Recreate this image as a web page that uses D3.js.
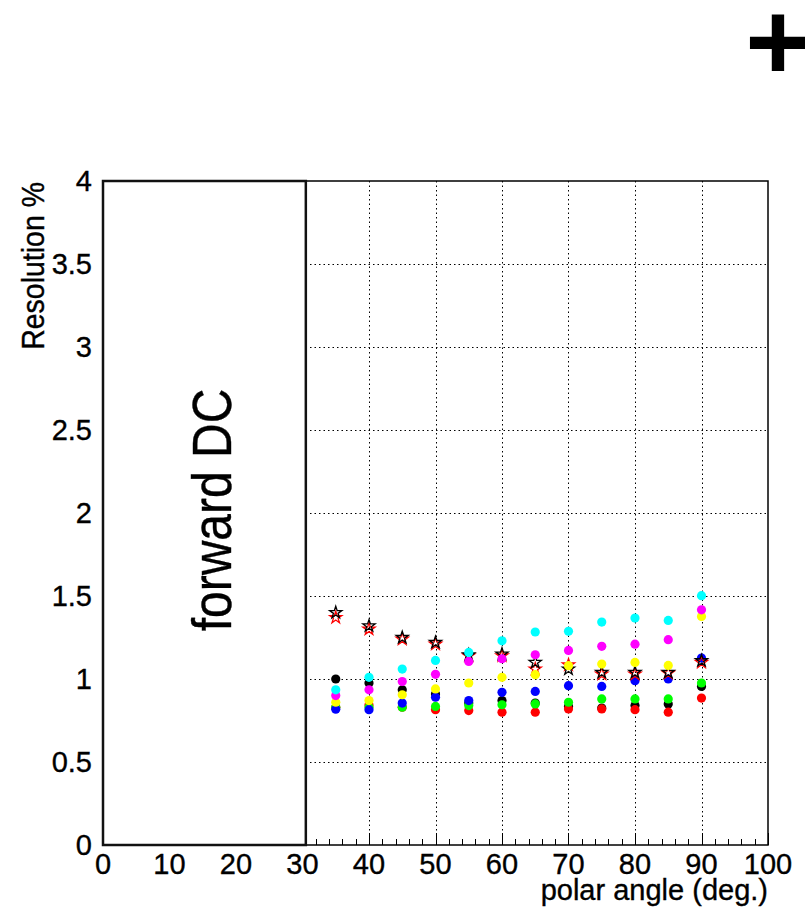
<!DOCTYPE html>
<html>
<head>
<meta charset="utf-8">
<script src="https://cdn.jsdelivr.net/npm/d3@7"></script>
<style>
  html, body { margin: 0; padding: 0; background: #fff; }
  svg { display: block; font-family: "Liberation Sans", Arial, Helvetica, sans-serif; }
  .lbl { fill: #000; stroke: #000; stroke-width: 0.35px; }
</style>
</head>
<body>
<svg id="chart" width="805" height="918"></svg>
<script>
// Polar angles of the measurements (degrees)
const angles = [35, 40, 45, 50, 55, 60, 65, 70, 75, 80, 85, 90];

// Resolution (%) per series
const starBlack = [1.40, 1.32, 1.25, 1.22, 1.145, 1.15, 1.10, 1.06, 1.04, 1.04, 1.04, 1.11];
const starRed   = [1.37, 1.30, 1.24, 1.21, 1.14, 1.14, 1.06, 1.085, 1.03, 1.03, 1.035, 1.10];
const dotBlack   = [1.00, 0.976, 0.935, 0.91, 0.855, 0.87, 0.855, 0.835, 0.825, 0.84, 0.85, 0.955];
const dotRed     = [0.83, 0.843, 0.83, 0.815, 0.81, 0.80, 0.80, 0.82, 0.82, 0.815, 0.80, 0.885];
const dotGreen   = [0.83, 0.83, 0.83, 0.835, 0.84, 0.845, 0.85, 0.86, 0.88, 0.88, 0.88, 0.976];
const dotBlue    = [0.818, 0.815, 0.855, 0.89, 0.87, 0.92, 0.925, 0.96, 0.955, 0.99, 1.00, 1.126];
const dotYellow  = [0.86, 0.87, 0.905, 0.94, 0.976, 1.01, 1.026, 1.08, 1.09, 1.10, 1.082, 1.377];
const dotMagenta = [0.90, 0.935, 0.985, 1.028, 1.106, 1.122, 1.146, 1.172, 1.197, 1.21, 1.237, 1.417];
const dotCyan    = [0.935, 1.01, 1.06, 1.112, 1.16, 1.23, 1.283, 1.287, 1.343, 1.367, 1.353, 1.502];

// Axis ticks and labels
const xTicks = [0, 10, 20, 30, 40, 50, 60, 70, 80, 90, 100];
const yTicks = [0, 0.5, 1, 1.5, 2, 2.5, 3, 3.5, 4];
const yTickLabels = ["0", "0.5", "1", "1.5", "2", "2.5", "3", "3.5", "4"];
const xTitle = "polar angle (deg.)";
const yTitle = "Resolution %";
const boxLabel = "forward DC";
const boxEnd = 30.5;   // extent of the forward-DC region on the angle axis

const svg = d3.select("#chart");
const plotLeft = 103, plotRight = 768, plotTop = 181, plotBottom = 845;

const x = d3.scaleLinear().domain([0, 100]).range([plotLeft, plotRight]);
const y = d3.scaleLinear().domain([0, 4]).range([plotBottom, plotTop]);

// Dotted grid
const grid = svg.append("g").attr("stroke", "#000").attr("stroke-width", 1)
  .attr("stroke-dasharray", "1.5,3").attr("fill", "none");
grid.selectAll("line.gx").data(xTicks.filter(d => d > 0 && d < 100)).join("line")
  .attr("x1", d => Math.round(x(d)) + 0.5).attr("x2", d => Math.round(x(d)) + 0.5)
  .attr("y1", plotTop).attr("y2", plotBottom);
grid.selectAll("line.gy").data(yTicks.filter(d => d > 0 && d < 4)).join("line")
  .attr("x1", plotLeft).attr("x2", plotRight)
  .attr("y1", d => Math.round(y(d)) + 0.5).attr("y2", d => Math.round(y(d)) + 0.5);

// Bottom axis: major ticks every 10, minor every 2, pointing up
const xMinor = d3.range(0, 101, 2);
svg.append("g").attr("stroke", "#000").attr("stroke-width", 1)
  .selectAll("line").data(xMinor).join("line")
  .attr("x1", d => Math.round(x(d)) + 0.5).attr("x2", d => Math.round(x(d)) + 0.5)
  .attr("y1", plotBottom).attr("y2", d => plotBottom - (d % 10 === 0 ? 12 : 6));

// Frame
svg.append("rect").attr("x", plotLeft).attr("y", plotTop)
  .attr("width", plotRight - plotLeft).attr("height", plotBottom - plotTop)
  .attr("fill", "none").attr("stroke", "#000").attr("stroke-width", 1.5);

// Forward DC region box
svg.append("rect").attr("x", x(0)).attr("y", plotTop)
  .attr("width", x(boxEnd) - x(0)).attr("height", plotBottom - plotTop)
  .attr("fill", "#fff").attr("stroke", "#111").attr("stroke-width", 2.5);
svg.append("text").attr("class", "lbl")
  .attr("transform", `translate(231,${y(2) - 3}) rotate(-90) scale(1,1.14)`)
  .attr("text-anchor", "middle").attr("font-size", 48)
  .text(boxLabel);

// Tick labels
svg.append("g").selectAll("text").data(xTicks).join("text").attr("class", "lbl")
  .attr("x", d => x(d)).attr("y", 874)
  .attr("text-anchor", "middle").attr("font-size", 29)
  .text(d => d);
svg.append("g").selectAll("text").data(yTicks).join("text").attr("class", "lbl")
  .attr("x", 92).attr("y", d => y(d) + 10)
  .attr("text-anchor", "end").attr("font-size", 29)
  .text((d, i) => yTickLabels[i]);

// Axis titles
svg.append("text").attr("class", "lbl").attr("x", plotRight).attr("y", 900)
  .attr("text-anchor", "end").attr("font-size", 29)
  .text(xTitle);
svg.append("text").attr("class", "lbl")
  .attr("transform", `translate(44,${plotTop + 1}) rotate(-90) scale(1,1.1)`)
  .attr("text-anchor", "end").attr("font-size", 28.5)
  .text(yTitle);

// Corner mark
svg.append("text").attr("x", 778).attr("y", 80)
  .attr("text-anchor", "middle").attr("font-size", 112).attr("font-weight", "bold")
  .attr("fill", "#000").text("+");

// Data markers
const marks = svg.append("g");
function dots(values, color) {
  marks.append("g").selectAll("circle").data(values).join("circle")
    .attr("cx", (d, i) => x(angles[i])).attr("cy", d => y(d))
    .attr("r", 4.6).attr("fill", color);
}
function stars(values, color) {
  const star = d3.symbol().type(d3.symbolStar).size(46);
  marks.append("g").selectAll("path").data(values).join("path")
    .attr("transform", (d, i) => `translate(${x(angles[i])},${y(d)})`)
    .attr("d", star).attr("fill", "none").attr("stroke", color).attr("stroke-width", 1.3);
}
dots(dotBlack, "#000000");
dots(dotRed, "#ff0000");
dots(dotGreen, "#00ff00");
dots(dotBlue, "#0000ff");
stars(starRed, "#ff0000");
stars(starBlack, "#000000");
dots(dotYellow, "#ffff00");
dots(dotMagenta, "#ff00ff");
dots(dotCyan, "#00ffff");
</script>
</body>
</html>
